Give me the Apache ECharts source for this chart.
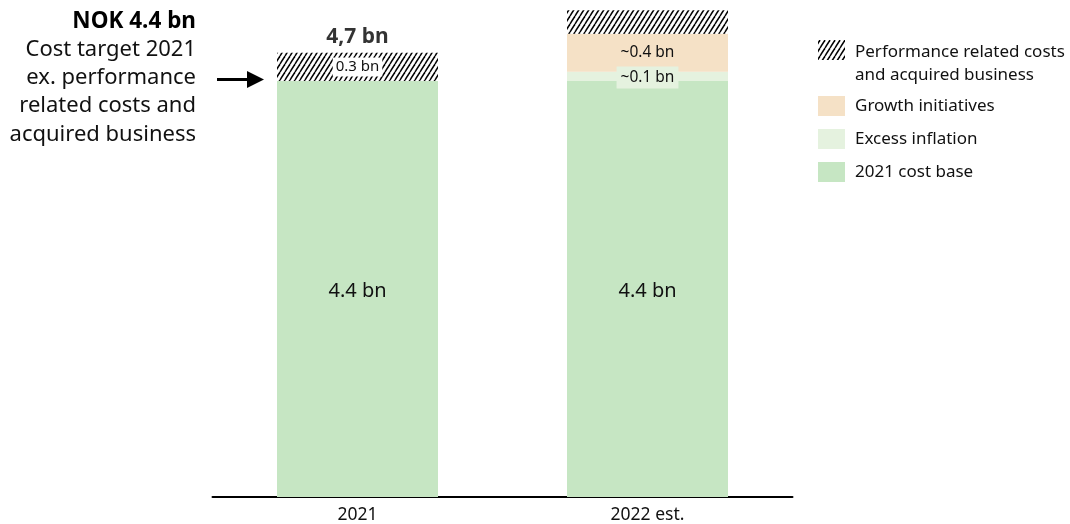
<!DOCTYPE html>
<html>
<head>
<meta charset="utf-8">
<script src="https://cdn.jsdelivr.net/npm/echarts@6/dist/echarts.min.js"></script>
<style>
  html, body { margin: 0; padding: 0; background: #ffffff; }
  #chart { width: 1070px; height: 524px; }
</style>
</head>
<body>
<div id="chart"></div>
<script>
// Cost bridge data (NOK bn)
const categories = ['2021', '2022 est.'];
const costBase = [4.4, 4.4];
const excessInflation = [0, 0.1];
const growthInitiatives = [0, 0.4];
const performanceRelated = [0.3, 0.25];
const totalLabels = ['4,7 bn', ''];
const baseLabels = ['4.4 bn', '4.4 bn'];
const performanceLabels = ['0.3 bn', ''];
const inflationLabels = ['', '~0.1 bn'];
const growthLabels = ['', '~0.4 bn'];

const FONT = 'Noto Sans';
const C_BASE = '#c6e6c3';
const C_INFL = '#e5f2df';
const C_GROWTH = '#f5e1c6';

// diagonal hatch tile for performance related costs
function makeHatch() {
  const w = 5, h = 8;
  const c = document.createElement('canvas');
  c.width = w; c.height = h;
  const ctx = c.getContext('2d');
  ctx.fillStyle = '#ffffff';
  ctx.fillRect(0, 0, w, h);
  ctx.strokeStyle = '#000000';
  ctx.lineWidth = 1.5;
  for (let k = -1; k <= 1; k++) {
    ctx.beginPath();
    ctx.moveTo(k * w, h);
    ctx.lineTo(k * w + w, 0);
    ctx.stroke();
  }
  return c;
}
const hatch = { image: makeHatch(), repeat: 'repeat' };

const chart = echarts.init(document.getElementById('chart'));

function labelled(values, labels) {
  return values.map((v, i) => ({ value: v, label: { show: !!labels[i] } }));
}

const totals = categories.map((_, i) => costBase[i] + performanceRelated[i]);

chart.setOption({
  animation: false,
  textStyle: { fontFamily: FONT },
  grid: { left: 212.5, right: 277.5, top: 5.5, bottom: 26.5 },
  xAxis: {
    type: 'category',
    data: categories,
    axisLine: { lineStyle: { color: '#000000', width: 2 } },
    axisTick: { show: false },
    axisLabel: { color: '#111111', fontSize: 17.5, fontFamily: FONT, margin: 9 }
  },
  yAxis: {
    type: 'value', min: 0, max: 5.2, show: false,
    splitLine: { show: false }
  },
  series: [
    {
      name: '2021 cost base', type: 'bar', stack: 'cost', barWidth: 161,
      itemStyle: { color: C_BASE },
      label: {
        position: 'inside', offset: [0, 2], color: '#111111', fontSize: 20, fontFamily: FONT,
        formatter: p => baseLabels[p.dataIndex]
      },
      data: labelled(costBase, baseLabels)
    },
    {
      name: 'Excess inflation', type: 'bar', stack: 'cost',
      itemStyle: { color: C_INFL },
      label: {
        position: 'inside', offset: [0, 1], color: '#111111', fontSize: 15.5, fontFamily: FONT,
        backgroundColor: C_INFL, padding: [3, 4, 3, 4],
        formatter: p => inflationLabels[p.dataIndex]
      },
      data: labelled(excessInflation, inflationLabels)
    },
    {
      name: 'Growth initiatives', type: 'bar', stack: 'cost',
      itemStyle: { color: C_GROWTH },
      label: {
        position: 'inside', color: '#111111', fontSize: 15.5, fontFamily: FONT,
        formatter: p => growthLabels[p.dataIndex]
      },
      data: labelled(growthInitiatives, growthLabels)
    },
    {
      name: 'Performance related costs and acquired business', type: 'bar', stack: 'cost',
      itemStyle: { color: hatch },
      label: {
        position: 'inside', color: '#111111', fontSize: 15, fontFamily: FONT,
        backgroundColor: '#ffffff', padding: [2, 3, 2, 3],
        formatter: p => performanceLabels[p.dataIndex]
      },
      data: labelled(performanceRelated, performanceLabels)
    },
    {
      name: 'total', type: 'scatter', symbolSize: 0, silent: true,
      label: {
        show: true, position: 'top', distance: 5,
        color: '#000000', fontSize: 21, fontWeight: 'bold', fontFamily: FONT,
        formatter: p => totalLabels[p.dataIndex]
      },
      data: totals.map((t, i) => totalLabels[i] ? [categories[i], t] : null)
    }
  ]
});

// arrow pointing at the 2021 cost target level
const targetY = chart.convertToPixel({ yAxisIndex: 0 }, costBase[0]);

const legendItems = [
  { name: 'Performance related costs\nand acquired business', fill: hatch, y: 40 },
  { name: 'Growth initiatives', fill: C_GROWTH, y: 96 },
  { name: 'Excess inflation', fill: C_INFL, y: 129 },
  { name: '2021 cost base', fill: C_BASE, y: 162 }
];

const graphics = [
  {
    type: 'text', x: 196, y: 7,
    style: {
      text: '{b|NOK 4.4 bn}\nCost target 2021\nex. performance\nrelated costs and\nacquired business',
      align: 'right', verticalAlign: 'top',
      fontFamily: FONT, fontSize: 22, lineHeight: 28.3, fill: '#111111',
      rich: { b: { fontWeight: 'bold', fontSize: 22.5, fontFamily: FONT, fill: '#000000', lineHeight: 28.3 } }
    }
  },
  {
    type: 'line',
    shape: { x1: 217, y1: targetY - 1.5, x2: 250, y2: targetY - 1.5 },
    style: { stroke: '#000000', lineWidth: 3 }
  },
  {
    type: 'polygon',
    shape: { points: [[247, targetY - 10], [264, targetY - 1.5], [247, targetY + 7]] },
    style: { fill: '#000000' }
  }
];

legendItems.forEach((it, i) => {
  graphics.push({
    type: 'rect',
    shape: { x: 818, y: it.y, width: 27, height: 20 },
    style: { fill: it.fill }
  });
  graphics.push({
    type: 'text', x: 855, y: i === 0 ? it.y + 0.5 : it.y + 10,
    style: {
      text: it.name, fontFamily: FONT, fontSize: 17, lineHeight: 23,
      fill: '#111111', align: 'left', verticalAlign: i === 0 ? 'top' : 'middle'
    }
  });
});

chart.setOption({ graphic: graphics });
</script>
</body>
</html>
